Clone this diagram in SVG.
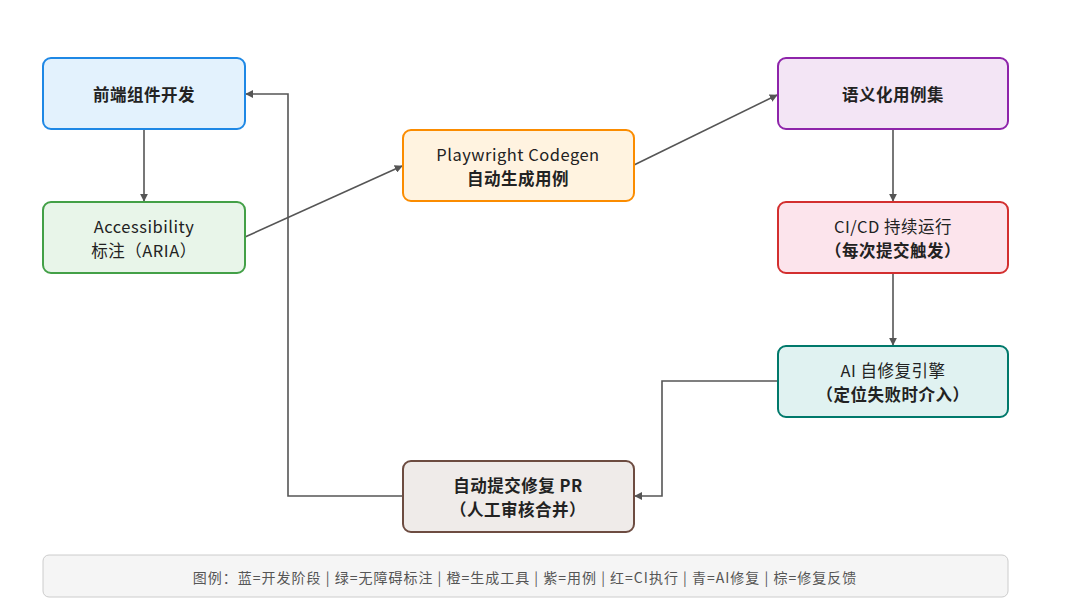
<svg xmlns="http://www.w3.org/2000/svg" width="1080" height="605" viewBox="0 0 1080 605">
<defs>
<marker id="ah" viewBox="0 0 10 10" refX="9" refY="5" markerWidth="8" markerHeight="8" markerUnits="userSpaceOnUse" orient="auto">
<path d="M0,0 L10,5 L0,10 z" fill="#555"/>
</marker>
<style>
.n{stroke-width:2;}
.t{font-family:"Noto Sans CJK SC","Noto Sans",sans-serif;font-size:16.5px;letter-spacing:0.5px;fill:#222;text-anchor:middle;dominant-baseline:central;}
.b{font-weight:600;}
.c{fill:none;stroke:#555;stroke-width:1.6;marker-end:url(#ah);}
</style>
</defs>
<rect width="1080" height="605" fill="#fff"/>
<g id="connectors">
<line class="c" x1="144" y1="129" x2="144" y2="201"/>
<line class="c" x1="245" y1="237" x2="402" y2="166"/>
<line class="c" x1="634" y1="165" x2="777" y2="95"/>
<line class="c" x1="893" y1="129" x2="893" y2="201"/>
<line class="c" x1="893" y1="273" x2="893" y2="345"/>
<polyline class="c" points="778,381 662,381 662,496 635,496"/>
<polyline class="c" points="403,496 288,496 288,94 246,94"/>
</g>
<g id="n1">
<rect class="n" x="43" y="58" width="202" height="71" rx="8" fill="#e3f2fd" stroke="#1e88e5"/>
<text class="t b" x="144" y="94">前端组件开发</text>
</g>
<g id="n2">
<rect class="n" x="43" y="202" width="202" height="71" rx="8" fill="#e8f5e9" stroke="#43a047"/>
<text class="t" x="144" y="226">Accessibility</text>
<text class="t" x="144" y="250">标注（ARIA）</text>
</g>
<g id="n3">
<rect class="n" x="403" y="130" width="231" height="71" rx="8" fill="#fff3e0" stroke="#fb8c00"/>
<text class="t" x="518" y="154">Playwright Codegen</text>
<text class="t b" x="518" y="178">自动生成用例</text>
</g>
<g id="n4">
<rect class="n" x="778" y="58" width="230" height="71" rx="8" fill="#f3e5f5" stroke="#8e24aa"/>
<text class="t b" x="893" y="94">语义化用例集</text>
</g>
<g id="n5">
<rect class="n" x="778" y="202" width="230" height="71" rx="8" fill="#fce4ec" stroke="#d32f2f"/>
<text class="t" x="893" y="226">CI/CD 持续运行</text>
<text class="t b" x="893" y="250">（每次提交触发）</text>
</g>
<g id="n6">
<rect class="n" x="778" y="346" width="230" height="71" rx="8" fill="#e0f2f1" stroke="#00796b"/>
<text class="t" x="893" y="370">AI 自修复引擎</text>
<text class="t b" x="893" y="394">（定位失败时介入）</text>
</g>
<g id="n7">
<rect class="n" x="403" y="461" width="231" height="71" rx="8" fill="#efebe9" stroke="#6d4c41"/>
<text class="t b" x="518" y="485">自动提交修复 PR</text>
<text class="t b" x="518" y="509">（人工审核合并）</text>
</g>
<g id="legend">
<rect x="43" y="555" width="965" height="42" rx="6" fill="#f5f5f5" stroke="#ccc" stroke-width="1"/>
<text x="525" y="577" style="font-family:'Noto Sans CJK SC','Noto Sans',sans-serif;font-size:14px;letter-spacing:1px;fill:#555;text-anchor:middle;dominant-baseline:central;">图例：蓝=开发阶段 | 绿=无障碍标注 | 橙=生成工具 | 紫=用例 | 红=CI执行 | 青=AI修复 | 棕=修复反馈</text>
</g>
</svg>
